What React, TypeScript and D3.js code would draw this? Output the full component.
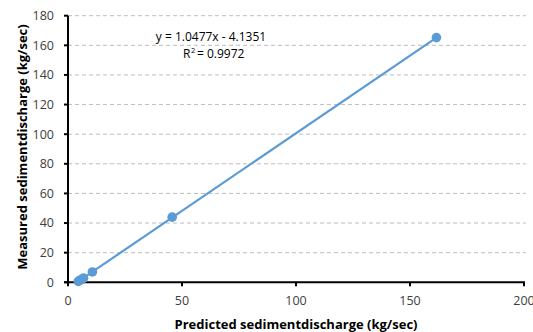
import React from "react";
import * as d3 from "d3";

const predicted = [4.5, 5.2, 6.0, 6.8, 10.7, 45.7, 161.6];
const measured = [0.6, 1.3, 2.0, 2.8, 7.0, 44.0, 165.2];
const xTicks = [0, 50, 100, 150, 200];
const yTicks = [0, 20, 40, 60, 80, 100, 120, 140, 160, 180];
const slope = 1.0477;
const intercept = -4.1351;
const eqText = "y = 1.0477x - 4.1351";
const r2Text = "= 0.9972";

const W = 533, H = 332;
const left = 68, right = 526, top = 15.7, bottom = 282.3;
const color = "#5B9BD5";
const font = "'Open Sans', 'Liberation Sans', sans-serif";

export default function App() {
  const x = d3.scaleLinear().domain([0, 200]).range([left, 524]);
  const y = d3.scaleLinear().domain([0, 180]).range([bottom, top]);
  const xMin = d3.min(predicted)!;
  const xMax = d3.max(predicted)!;
  const line = d3.line<number>().x((d) => x(d)).y((d) => y(slope * d + intercept));
  return (
    <svg width={W} height={H} style={{ position: "absolute", left: 0, top: 0 }} fontFamily={font}>
      <rect width={W} height={H} fill="#fff" />
      {yTicks.filter((t) => t > 0).map((t) => (
        <line key={t} x1={left} x2={right} y1={y(t)} y2={y(t)} stroke="#bdbdbd" strokeWidth={1} strokeDasharray="4,3" />
      ))}
      <line x1={left} x2={left} y1={bottom} y2={top} stroke="#000" strokeWidth={2} />
      <line x1={left - 4} x2={x(200) + 1} y1={bottom} y2={bottom} stroke="#000" strokeWidth={2} />
      {yTicks.map((t) => (
        <g key={t}>
          <line x1={left - 4} x2={left} y1={y(t)} y2={y(t)} stroke="#000" strokeWidth={2} />
          <text x={54} y={y(t)} dy="0.35em" textAnchor="end" fontSize={12.5} fill="#404040">{t}</text>
        </g>
      ))}
      {xTicks.map((t) => (
        <g key={t}>
          <line x1={x(t)} x2={x(t)} y1={bottom} y2={bottom + 4} stroke="#000" strokeWidth={2} />
          <text x={x(t)} y={301} dy="0.35em" textAnchor="middle" fontSize={12.5} fill="#404040">{t}</text>
        </g>
      ))}
      <path d={line([xMin, xMax]) || ""} fill="none" stroke={color} strokeWidth={2.2} />
      {predicted.map((p, i) => (
        <circle key={i} cx={x(p)} cy={y(measured[i])} r={4.8} fill={color} />
      ))}
      <text x={211} y={37} dy="0.35em" textAnchor="middle" fontSize={12} fill="#000">{eqText}</text>
      <text x={183} y={54} dy="0.35em" textAnchor="start" fontSize={12} fill="#000">R</text>
      <text x={191} y={50} dy="0.35em" textAnchor="start" fontSize={7.5} fill="#000">2</text>
      <text x={197} y={54} dy="0.35em" textAnchor="start" fontSize={12} fill="#000">{r2Text}</text>
      <text x={296} y={324} dy="0.35em" textAnchor="middle" fontSize={13} fontWeight="bold" fill="#000">
        Predicted sedimentdischarge (kg/sec)
      </text>
      <text transform={`translate(22,${147}) rotate(-90)`} dy="0.35em" textAnchor="middle" fontSize={13} fontWeight="bold" fill="#000">
        Measured sedimentdischarge (kg/sec)
      </text>
    </svg>
  );
}
